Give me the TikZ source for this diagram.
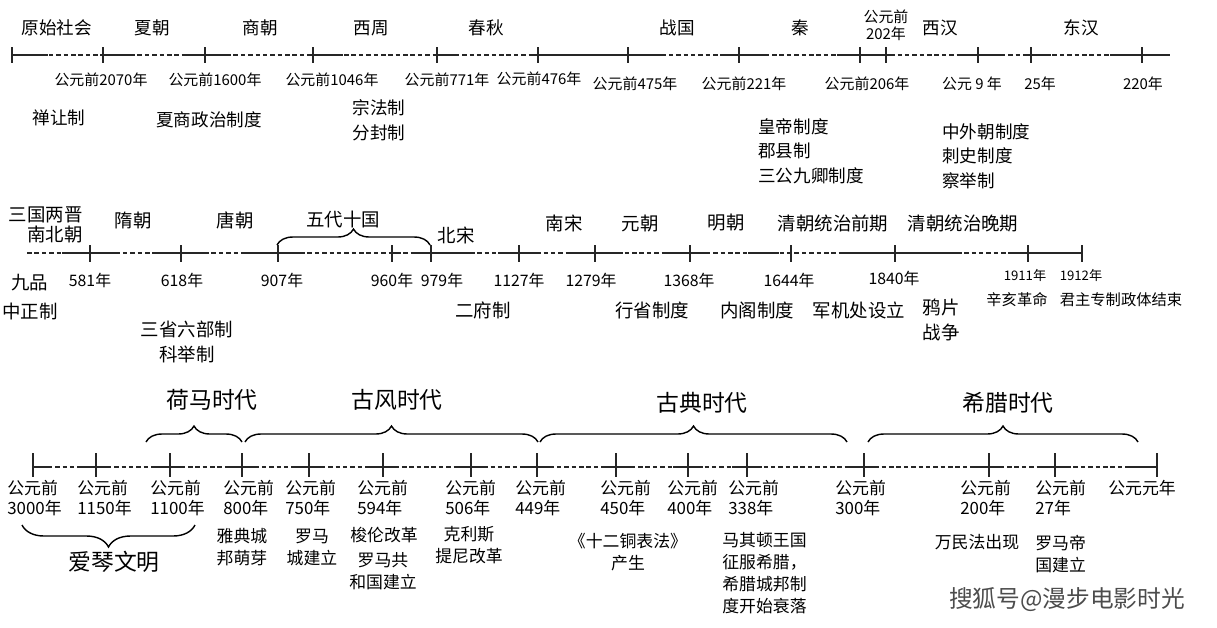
\documentclass[tikz,border=0pt]{standalone}
\usepackage{fontspec}
\setmainfont{Noto Sans CJK SC}
\usetikzlibrary{decorations.pathreplacing, positioning}

\begin{document}
\begin{tikzpicture}[
    x=0.02cm, y=-0.02cm,
    axis_solid/.style={line width=0.9pt, black!85},
    axis_dashed/.style={line width=0.9pt, black!85, dash pattern=on 2.6pt off 1.6pt},
    tick_style/.style={line width=0.9pt, black!85},
    brace_style/.style={decorate, decoration={brace, amplitude=0.32cm}, line width=0.8pt},
    dynasty_style/.style={font=\fontsize{10}{12}\selectfont, inner sep=0pt},
    year_style/.style={font=\fontsize{8.5}{9.6}\selectfont, inner sep=0pt, align=center},
    system_style/.style={font=\fontsize{10}{14}\selectfont, inner sep=0pt, align=center},
    small_style/.style={font=\fontsize{8.7}{10}\selectfont, inner sep=0pt},
    stamp_style/.style={font=\fontsize{9.6}{11.3}\selectfont, inner sep=0pt, align=left, anchor=west},
    event_style/.style={font=\fontsize{9.6}{12.5}\selectfont, inner sep=0pt, align=center},
    age_style/.style={font=\fontsize{13}{15}\selectfont, inner sep=0pt}
]
    \useasboundingbox (0,0) rectangle (1217,627);

    % Axis 1: pre-Qin to Han
    \draw[axis_dashed] (12,55) -- (1170,55);
    \foreach \a/\b in {12/48, 100/132, 185/226, 311/343, 436/459, 530/662,
                       724/767, 837/892, 958/1005, 1028/1051, 1110/1170}
        \draw[axis_solid] (\a,55) -- (\b,55);
    \foreach \x in {12, 103, 205, 313, 437, 538, 628, 739, 860, 886, 978, 1031, 1142}
        \draw[tick_style] (\x,47) -- (\x,63);

    % Axis 2: Wei-Jin to Qing
    \draw[axis_dashed] (27,253) -- (1083,253);
    \foreach \a/\b in {62/117, 152/206, 241/300, 389/397, 413/475, 498/537,
                       569/623, 662/709, 748/779, 841/962, 1012/1083}
        \draw[axis_solid] (\a,253) -- (\b,253);
    \foreach \x in {90, 181, 278, 392, 431, 519, 595, 690, 791, 895, 1028, 1082}
        \draw[tick_style] (\x,245) -- (\x,262);

    % Axis 3: Greece and Rome
    \draw[axis_dashed] (33,467) -- (1157,467);
    \draw[axis_solid] (33,467) -- (51,467);
    \draw[axis_solid] (1130,467) -- (1157,467);
    \foreach \x in {96, 170, 242, 309, 383, 471, 537, 616, 688, 747, 864, 989, 1055}
        \draw[axis_solid] (\x-15,467) -- (\x+15,467);
    \foreach \x in {33, 96, 170, 242, 309, 383, 471, 537, 616, 688, 747, 864, 989, 1055, 1157}
        \draw[tick_style] (\x,453) -- (\x,477);

    % Dynasties (row 1)
    \node[dynasty_style] (yuanshi) at (57,28) {原始社会};
    \node[dynasty_style] (xia) at (152,28) {夏朝};
    \node[dynasty_style] (shang) at (260,28) {商朝};
    \node[dynasty_style] (xizhou) at (371,28) {西周};
    \node[dynasty_style] (chunqiu) at (486,28) {春秋};
    \node[dynasty_style] (zhanguo) at (677,28) {战国};
    \node[dynasty_style] (qin) at (800,28) {秦};
    \node[year_style] (y_202) at (886,25) {公元前\\202年};
    \node[dynasty_style] (xihan) at (940,28) {西汉};
    \node[dynasty_style] (donghan) at (1081,28) {东汉};

    % Years (row 1)
    \node[year_style] (y_2070) at (101,80) {公元前2070年};
    \node[year_style] (y_1600) at (215,80) {公元前1600年};
    \node[year_style] (y_1046) at (332,80) {公元前1046年};
    \node[year_style] (y_771) at (447,80) {公元前771年};
    \node[year_style] (y_476) at (539,79) {公元前476年};
    \node[year_style] (y_475) at (635,84) {公元前475年};
    \node[year_style] (y_221) at (744,84) {公元前221年};
    \node[year_style] (y_206) at (867,84) {公元前206年};
    \node[year_style] (y_9) at (972,84) {公元 9 年};
    \node[year_style] (y_25) at (1040,84) {25年};
    \node[year_style] (y_220) at (1143,84) {220年};

    % Systems (row 1)
    \node[system_style] (shanrang) at (59,118) {禅让制};
    \node[system_style] (xiashang) at (209,120) {夏商政治制度};
    \node[system_style] (zongfa) at (379,120) {宗法制\\分封制};
    \node[system_style, align=left, anchor=west] (huangdi) at (758,151) {皇帝制度\\郡县制\\三公九卿制度};
    \node[system_style, align=left, anchor=west] (zhongwai) at (942,156) {中外朝制度\\刺史制度\\察举制};

    % Dynasties (row 2)
    \node[dynasty_style, font=\fontsize{10.5}{11.3}\selectfont, align=right, anchor=east] (nanbei) at (83,225) {三国两晋\\南北朝};
    \node[dynasty_style, font=\fontsize{10.5}{12}\selectfont] (sui) at (133,220) {隋朝};
    \node[dynasty_style, font=\fontsize{10.5}{12}\selectfont] (tang) at (235,220) {唐朝};
    \node[dynasty_style, font=\fontsize{10.5}{12}\selectfont] (wudai) at (343,220) {五代十国};
    \node[dynasty_style, font=\fontsize{10.5}{12}\selectfont] (beisong) at (456,235) {北宋};
    \node[dynasty_style, font=\fontsize{10.5}{12}\selectfont] (nansong) at (564,223) {南宋};
    \node[dynasty_style, font=\fontsize{10.5}{12}\selectfont] (yuan) at (640,223) {元朝};
    \node[dynasty_style, font=\fontsize{10.5}{12}\selectfont] (ming) at (726,223) {明朝};
    \node[dynasty_style, font=\fontsize{10.5}{12}\selectfont] (qing_a) at (833,223) {清朝统治前期};
    \node[dynasty_style, font=\fontsize{10.5}{12}\selectfont] (qing_b) at (963,223) {清朝统治晚期};
    \draw[brace_style] (277,245) -- (430,245);

    % Years (row 2)
    \node[year_style, font=\fontsize{9}{10}\selectfont] (y_581) at (90,280) {581年};
    \node[year_style, font=\fontsize{9}{10}\selectfont] (y_618) at (182,280) {618年};
    \node[year_style, font=\fontsize{9}{10}\selectfont] (y_907) at (282,280) {907年};
    \node[year_style, font=\fontsize{9}{10}\selectfont] (y_960) at (392,280) {960年};
    \node[year_style, font=\fontsize{9}{10}\selectfont] (y_979) at (442,280) {979年};
    \node[year_style, font=\fontsize{9}{10}\selectfont] (y_1127) at (519,280) {1127年};
    \node[year_style, font=\fontsize{9}{10}\selectfont] (y_1279) at (591,280) {1279年};
    \node[year_style, font=\fontsize{9}{10}\selectfont] (y_1368) at (689,280) {1368年};
    \node[year_style, font=\fontsize{9}{10}\selectfont] (y_1644) at (789,280) {1644年};
    \node[year_style, font=\fontsize{9}{10}\selectfont] (y_1840) at (894,278) {1840年};
    \node[year_style, font=\fontsize{7.5}{9}\selectfont] (y_1911) at (1025,275) {1911年};
    \node[year_style, font=\fontsize{7.5}{9}\selectfont] (y_1912) at (1081,275) {1912年};

    % Systems (row 2)
    \node[system_style, font=\fontsize{10.5}{16.4}\selectfont] (jiupin) at (30,297) {九品\\中正制};
    \node[system_style, font=\fontsize{10.5}{14}\selectfont] (sansheng) at (187,342) {三省六部制\\科举制};
    \node[system_style, font=\fontsize{10.5}{14}\selectfont] (erfu) at (483,310) {二府制};
    \node[system_style, font=\fontsize{10.5}{14}\selectfont] (xingsheng) at (652,310) {行省制度};
    \node[system_style, font=\fontsize{10.5}{14}\selectfont] (neige) at (757,310) {内阁制度};
    \node[system_style, font=\fontsize{10.5}{14}\selectfont] (junji) at (859,310) {军机处设立};
    \node[system_style, font=\fontsize{10.5}{14}\selectfont] (yapian) at (941,320) {鸦片\\战争};
    \node[small_style] (xinhai) at (1017,300) {辛亥革命};
    \node[small_style] (zhuanzhi) at (1121,300) {君主专制政体结束};

    % Ages (row 3)
    \node[age_style] (homer) at (212,400) {荷马时代};
    \node[age_style] (archaic) at (397,400) {古风时代};
    \node[age_style] (classic) at (702,403) {古典时代};
    \node[age_style] (hellen) at (1008,403) {希腊时代};
    \draw[brace_style] (146,442) -- (242,442);
    \draw[brace_style] (245,442) -- (538,442);
    \draw[brace_style] (540,442) -- (847,442);
    \draw[brace_style] (868,442) -- (1138,442);

    % Years (row 3)
    \node[stamp_style] (s_3000) at (7,498) {公元前\\3000年};
    \node[stamp_style] (s_1150) at (77,498) {公元前\\1150年};
    \node[stamp_style] (s_1100) at (150,498) {公元前\\1100年};
    \node[stamp_style] (s_800) at (223,498) {公元前\\800年};
    \node[stamp_style] (s_750) at (285,498) {公元前\\750年};
    \node[stamp_style] (s_594) at (357,498) {公元前\\594年};
    \node[stamp_style] (s_506) at (445,498) {公元前\\506年};
    \node[stamp_style] (s_449) at (515,498) {公元前\\449年};
    \node[stamp_style] (s_450) at (600,498) {公元前\\450年};
    \node[stamp_style] (s_400) at (667,498) {公元前\\400年};
    \node[stamp_style] (s_338) at (728,498) {公元前\\338年};
    \node[stamp_style] (s_300) at (835,498) {公元前\\300年};
    \node[stamp_style] (s_200) at (960,498) {公元前\\200年};
    \node[stamp_style] (s_27) at (1035,498) {公元前\\27年};
    \node[stamp_style] (s_1) at (1108,488) {公元元年};

    % Events (row 3)
    \draw[brace_style, decoration={mirror, amplitude=0.44cm}] (22,525) -- (195,525);
    \node[age_style] (aegean) at (114,562) {爱琴文明};
    \node[event_style] (athens) at (242,547) {雅典城\\邦萌芽};
    \node[event_style] (rome) at (312,547) {罗马\\城建立};
    \node[event_style] (solon) at (384,535) {梭伦改革};
    \node[event_style] (republic) at (383,571) {罗马共\\和国建立};
    \node[event_style] (cleis) at (469,545) {克利斯\\提尼改革};
    \node[event_style] (tables) at (628,552) {《十二铜表法》\\产生};
    \node[event_style, align=left, anchor=west] (macedon) at (722,573) {马其顿王国\\征服希腊，\\希腊城邦制\\度开始衰落};
    \node[event_style] (gentium) at (977,542) {万民法出现};
    \node[event_style, align=left, anchor=west] (empire) at (1035,554) {罗马帝\\国建立};

    % Watermark
    \node[font=\fontsize{13.5}{15}\selectfont, text=black!70, inner sep=0pt] (mark) at (1067,600) {搜狐号@漫步电影时光};

\end{tikzpicture}
\end{document}
